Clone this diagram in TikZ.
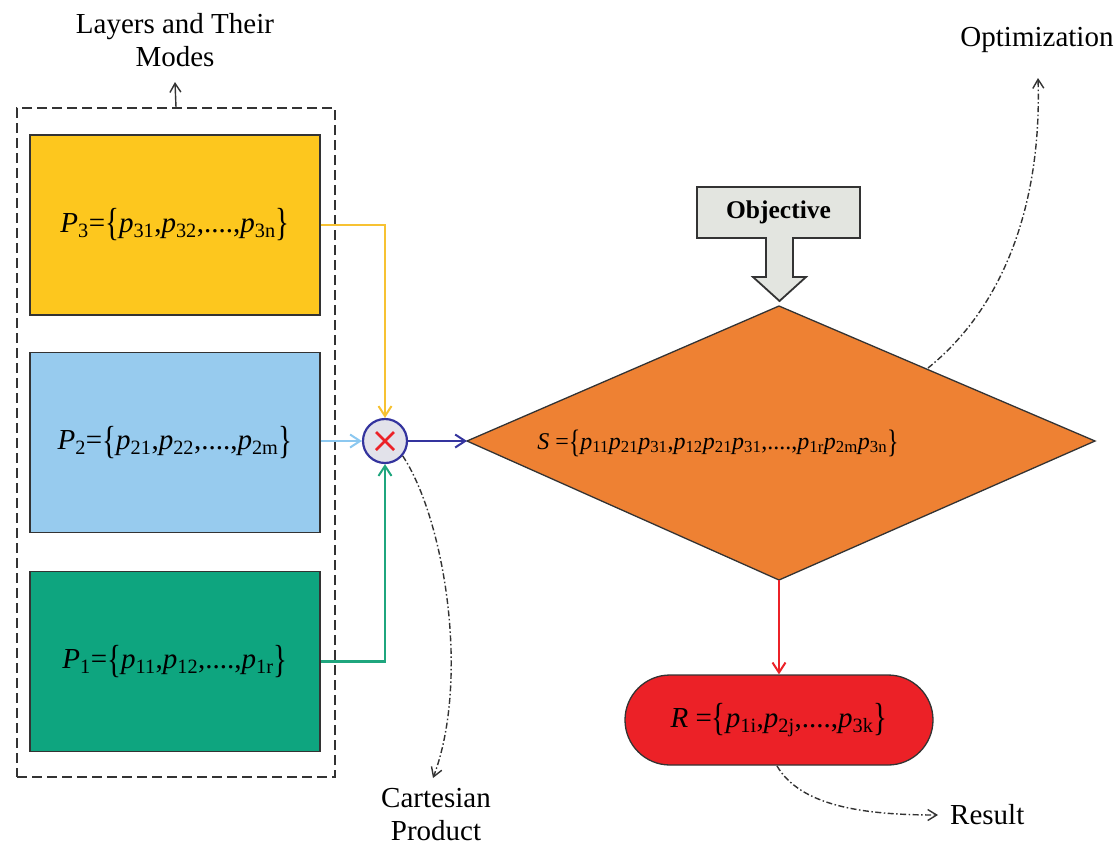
\documentclass[tikz,border=0pt]{standalone}
\usepackage{fontspec}
\usepackage{graphicx}
\setmainfont{Liberation Serif}
\usetikzlibrary{arrows.meta}
\definecolor{cyel}{HTML}{FDC71E}
\definecolor{cblue}{HTML}{97CBEE}
\definecolor{cgreen}{HTML}{0EA57F}
\definecolor{corange}{HTML}{EE8133}
\definecolor{cred}{HTML}{EC2127}
\definecolor{cnavy}{HTML}{34349E}
\definecolor{ccirc}{HTML}{E2E2EA}
\definecolor{cobj}{HTML}{E3E5E0}
\definecolor{cyline}{HTML}{F7C232}
\definecolor{cbline}{HTML}{8CC8F0}
\definecolor{cgline}{HTML}{1FA67E}
\definecolor{cedge}{HTML}{333333}
\newcommand\pv[2]{\textit{#1}\textsubscript{#2}}
\newcommand\lbr{\raisebox{-0.12em}{\scalebox{1}[1.35]{\{}}}
\newcommand\rbr{\raisebox{-0.12em}{\scalebox{1}[1.35]{\}}}}
\tikzset{
  txt/.style={font=\fontsize{29}{33}\selectfont, inner sep=0pt},
  layerbox/.style={draw=cedge, line width=1.4pt, minimum width=290pt, minimum height=180pt, font=\fontsize{29}{33}\selectfont},
  flow/.style={line width=2.4pt, -{Straight Barb[length=10pt,width=13pt,line width=2pt]}},
  note/.style={line width=1.4pt, draw=black!80, dash pattern=on 6pt off 2.5pt on 1.5pt off 2.5pt, -{Straight Barb[length=9pt,width=11pt,line width=1.4pt]}},
}
\begin{document}
\begin{tikzpicture}[x=1pt,y=-1pt]
\useasboundingbox (0,0) rectangle (1119,855);
% layer group
\node[draw=cedge, dash pattern=on 10pt off 5pt, line width=1.5pt, minimum width=318pt, minimum height=669pt, inner sep=0pt] (layers) at (176,442.5) {};
\node[layerbox, fill=cyel] (p3) at (175,225) {\pv{P}{3}=\lbr\pv{p}{31},\pv{p}{32},....,\pv{p}{3n}\rbr};
\node[layerbox, fill=cblue] (p2) at (175,442.5) {\pv{P}{2}=\lbr\pv{p}{21},\pv{p}{22},....,\pv{p}{2m}\rbr};
\node[layerbox, fill=cgreen] (p1) at (175,661.5) {\pv{P}{1}=\lbr\pv{p}{11},\pv{p}{12},....,\pv{p}{1r}\rbr};
\node[txt, align=center] (laylab) at (175,40) {Layers and Their\\Modes};
\coordinate (laytip) at (175,82);
\draw[note, solid] (layers.north) -- (laytip);
% product circle
\node[circle, draw=cnavy, fill=ccirc, line width=2.2pt, minimum size=44pt, inner sep=0pt] (x) at (385,441) {};
\draw[cred, line width=2.6pt] ([shift={(-9,-9)}]x.center) -- ([shift={(9,9)}]x.center);
\draw[cred, line width=2.6pt] ([shift={(-9,9)}]x.center) -- ([shift={(9,-9)}]x.center);
\draw[flow, cyline] (p3.east) -| (x.north);
\draw[flow, cbline] (p2.east |- x.west) -- (x.west);
\draw[flow, cgline] (p1.east) -| (x.south);
% diamond
\coordinate (dL) at (467,441);
\coordinate (dT) at (779,306);
\coordinate (dR) at (1095,441);
\coordinate (dB) at (779,580);
\draw[fill=corange, draw=cedge, line width=1.3pt] (dL) -- (dT) -- (dR) -- (dB) -- cycle;
\node[txt, font=\fontsize{24}{30}\selectfont] (s) at (718,443) {\textit{S} =\lbr\pv{p}{11}\pv{p}{21}\pv{p}{31},\pv{p}{12}\pv{p}{21}\pv{p}{31},....,\pv{p}{1r}\pv{p}{2m}\pv{p}{3n}\rbr};
\draw[flow, cnavy] (x.east) -- (dL);
% objective block arrow
\draw[fill=cobj, draw=cedge, line width=1.8pt] (697,187) -- (860,187) -- (860,238) -- (793,238) -- (793,277) -- (806,277) -- (779.5,301) -- (753,277) -- (766,277) -- (766,238) -- (697,238) -- cycle;
\node[txt, font=\fontsize{25.5}{30}\selectfont\bfseries] (obj) at (778.5,212) {Objective};
% result
\node[draw=cedge, fill=cred, line width=1.3pt, rounded corners=45pt, minimum width=308pt, minimum height=90pt, font=\fontsize{29}{33}\selectfont] (r) at (779,720) {\textit{R} =\lbr\pv{p}{1i},\pv{p}{2j},....,\pv{p}{3k}\rbr};
\draw[flow, cred] (dB) -- (r.north);
% notes
\coordinate (cpt) at (433,778);
\node[txt, align=center] (cplab) at (436,815) {Cartesian\\Product};
\draw[note] (x.-40) .. controls (445,520) and (470,680) .. (cpt);
\coordinate (rt) at (938,815);
\node[txt, anchor=west] (rlab) at (950,815) {Result};
\draw[note] (777,766) .. controls (800,805) and (860,815) .. (rt);
\coordinate (ot) at (1038,78);
\node[txt] (olab) at (1037,40) {Optimization};
\draw[note] (928,368) .. controls (1000,310) and (1042,210) .. (ot);
\end{tikzpicture}
\end{document}
